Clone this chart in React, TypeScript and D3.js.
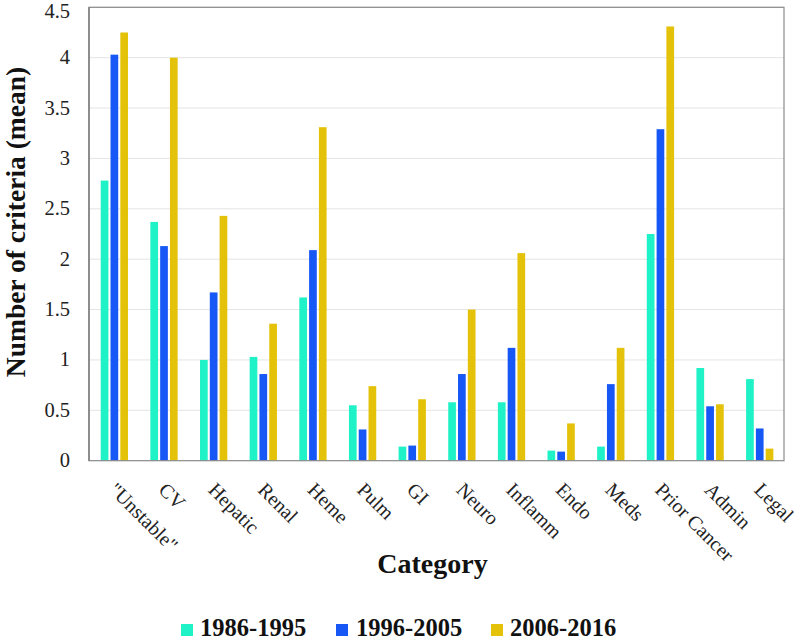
import React from "react";
import * as d3 from "d3";

const categories = ['"Unstable"', "CV", "Hepatic", "Renal", "Heme", "Pulm", "GI", "Neuro", "Inflamm", "Endo", "Meds", "Prior Cancer", "Admin", "Legal"];
const seriesNames = ["1986-1995", "1996-2005", "2006-2016"];
const values1986 = [2.78, 2.37, 1.0, 1.03, 1.62, 0.55, 0.14, 0.58, 0.58, 0.1, 0.14, 2.25, 0.92, 0.81];
const values1996 = [4.03, 2.13, 1.67, 0.86, 2.09, 0.31, 0.15, 0.86, 1.12, 0.09, 0.76, 3.29, 0.54, 0.32];
const values2006 = [4.25, 4.0, 2.43, 1.36, 3.31, 0.74, 0.61, 1.5, 2.06, 0.37, 1.12, 4.31, 0.56, 0.12];
const yTicks = [0, 0.5, 1, 1.5, 2, 2.5, 3, 3.5, 4, 4.5];
const colors = ["#1ff2c6", "#1757f5", "#e4c20a"];

const seriesValues = [values1986, values1996, values2006];

export default function App() {
  const W = 800, H = 640;
  const left = 89, right = 784, top = 7.3, bottom = 460.7;
  const x0 = d3.scaleBand<string>().domain(categories).range([left, right]).padding(0);
  const bw = x0.bandwidth();
  const x1 = d3.scaleBand<string>().domain(seriesNames).range([bw / 2 - 13.1, bw / 2 + 14.2]).paddingInner(0.214).paddingOuter(0);
  const y = d3.scaleLinear().domain([0, 4.5]).range([bottom, top]);
  const serif = "'Liberation Serif', 'Times New Roman', 'DejaVu Serif', serif";
  const tStyle = { fontFamily: serif };

  const legendItems = [
    { x: 181, tx: 200 },
    { x: 336, tx: 356 },
    { x: 491, tx: 510 },
  ];

  return (
    <svg width={W} height={H} style={{ position: "absolute", left: 0, top: 0, background: "#fff" }}>
      <rect x={0} y={0} width={W} height={H} fill="#fff" />
      {yTicks.filter(t => t > 0).map(t => (
        <line key={"g" + t} x1={left} x2={right} y1={y(t)} y2={y(t)} stroke="#e4e4e4" strokeWidth={1} />
      ))}
      {categories.map((c, i) => (
        <g key={c} transform={`translate(${x0(c)},0)`}>
          {seriesNames.map((s, j) => {
            const v = seriesValues[j][i];
            return <rect key={s} x={x1(s)} y={y(v)} width={x1.bandwidth()} height={y(0) - y(v)} fill={colors[j]} />;
          })}
        </g>
      ))}
      <rect x={left} y={top} width={right - left} height={bottom - top} fill="none" stroke="#8a8a8a" strokeWidth={1.2} />
      <line x1={left} x2={left} y1={top} y2={bottom} stroke="#707070" strokeWidth={1.2} />
      {yTicks.map(t => (
        <text key={"t" + t} x={70} y={Math.max(y(t) + 6.5, 17.5)} textAnchor="end" fontSize={20.5} fill="#222" style={tStyle}>{String(t)}</text>
      ))}
      {categories.map(c => {
        const cx = (x0(c) as number) + bw / 2;
        return (
          <text key={"l" + c} transform={`translate(${cx - 1},${486}) rotate(45)`} dy="0.35em" fontSize={20} fill="#222" style={tStyle}>{c}</text>
        );
      })}
      <text transform={`translate(25,${222}) rotate(-90)`} textAnchor="middle" fontSize={27.5} fontWeight="bold" fill="#111" style={tStyle}>Number of criteria (mean)</text>
      <text x={(left + right) / 2 - 4} y={573} textAnchor="middle" fontSize={28} fontWeight="bold" fill="#111" style={tStyle}>Category</text>
      {seriesNames.map((s, j) => (
        <g key={"lg" + s}>
          <rect x={legendItems[j].x} y={624} width={12} height={12} fill={colors[j]} />
          <text x={legendItems[j].tx} y={636} fontSize={24.5} fontWeight="bold" fill="#111" style={tStyle}>{s}</text>
        </g>
      ))}
    </svg>
  );
}
